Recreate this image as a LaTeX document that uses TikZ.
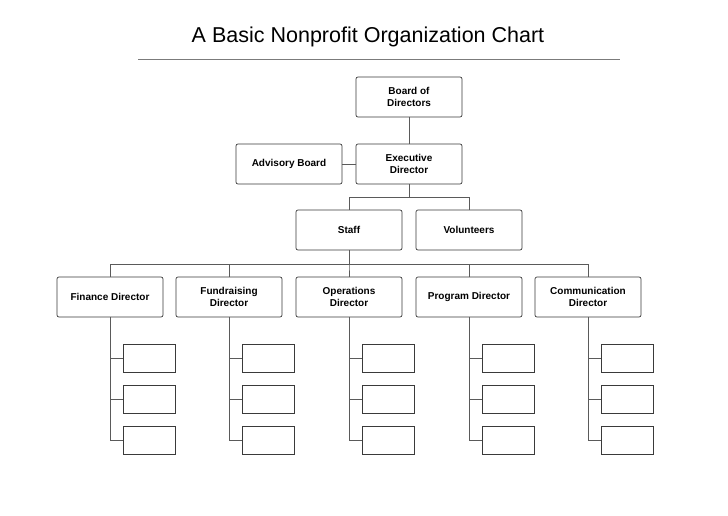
\documentclass[tikz,border=0pt]{standalone}
\usepackage{fontspec}
\setmainfont{Liberation Sans}
\usetikzlibrary{positioning}
\usetikzlibrary{calc}

\definecolor{boxline}{HTML}{3A3A3A}
\definecolor{wireline}{HTML}{5A5A5A}

\tikzset{
  orgbox/.style={draw=boxline, line width=0.7pt, rounded corners=2pt, minimum width=106pt,
    minimum height=40pt, inner sep=0pt, align=center, font=\fontsize{10}{12}\selectfont\bfseries},
  subbox/.style={draw=boxline, line width=0.7pt, minimum width=52pt, minimum height=28pt, inner sep=0pt},
  wire/.style={draw=wireline, line width=0.7pt}
}

\begin{document}
\begin{tikzpicture}[x=1pt, y=-1pt]
      \useasboundingbox (0,0) rectangle (728,515);

      % title
      \node (title) at (368,37) {\fontsize{21.5}{24}\selectfont A Basic Nonprofit Organization Chart};
      \draw [wireline!80, line width=0.8pt] (138,59) -- (620,59);

      % top levels
      \node [orgbox] (board) at (409,97) {Board of\\Directors};
      \node [orgbox] (exec) at (409,164) {Executive\\Director};
      \node [orgbox] (advisory) at (289,164) {Advisory Board};
      \node [orgbox] (staff) at (349,230) {Staff};
      \node [orgbox] (volunteers) at (469,230) {Volunteers};

      \draw [wire] (board) -- (exec);
      \draw [wire] (advisory) -- (exec);
      \draw [wire] (exec.south) -- ++(0,13) -| (staff.north);
      \draw [wire] (exec.south) -- ++(0,13) -| (volunteers.north);

      % directors
      \node [orgbox] (finance) at (110,297) {Finance Director};
      \node [orgbox] (fundraising) at (229,297) {Fundraising\\Director};
      \node [orgbox] (operations) at (349,297) {Operations\\Director};
      \node [orgbox] (program) at (469,297) {Program Director};
      \node [orgbox] (communication) at (588,297) {Communication\\Director};

      \foreach \d in {finance, fundraising, operations, program, communication} {
        \draw [wire] (staff.south) -- ++(0,14) -| (\d.north);
        \node [subbox] (\d1) at ($(\d.center)+(39,61)$) {};
        \node [subbox] (\d2) at ($(\d.center)+(39,102)$) {};
        \node [subbox] (\d3) at ($(\d.center)+(39,143)$) {};
        \draw [wire] (\d.south) |- (\d1.west);
        \draw [wire] (\d.south) |- (\d2.west);
        \draw [wire] (\d.south) |- (\d3.west);
      }
    \end{tikzpicture}
\end{document}
